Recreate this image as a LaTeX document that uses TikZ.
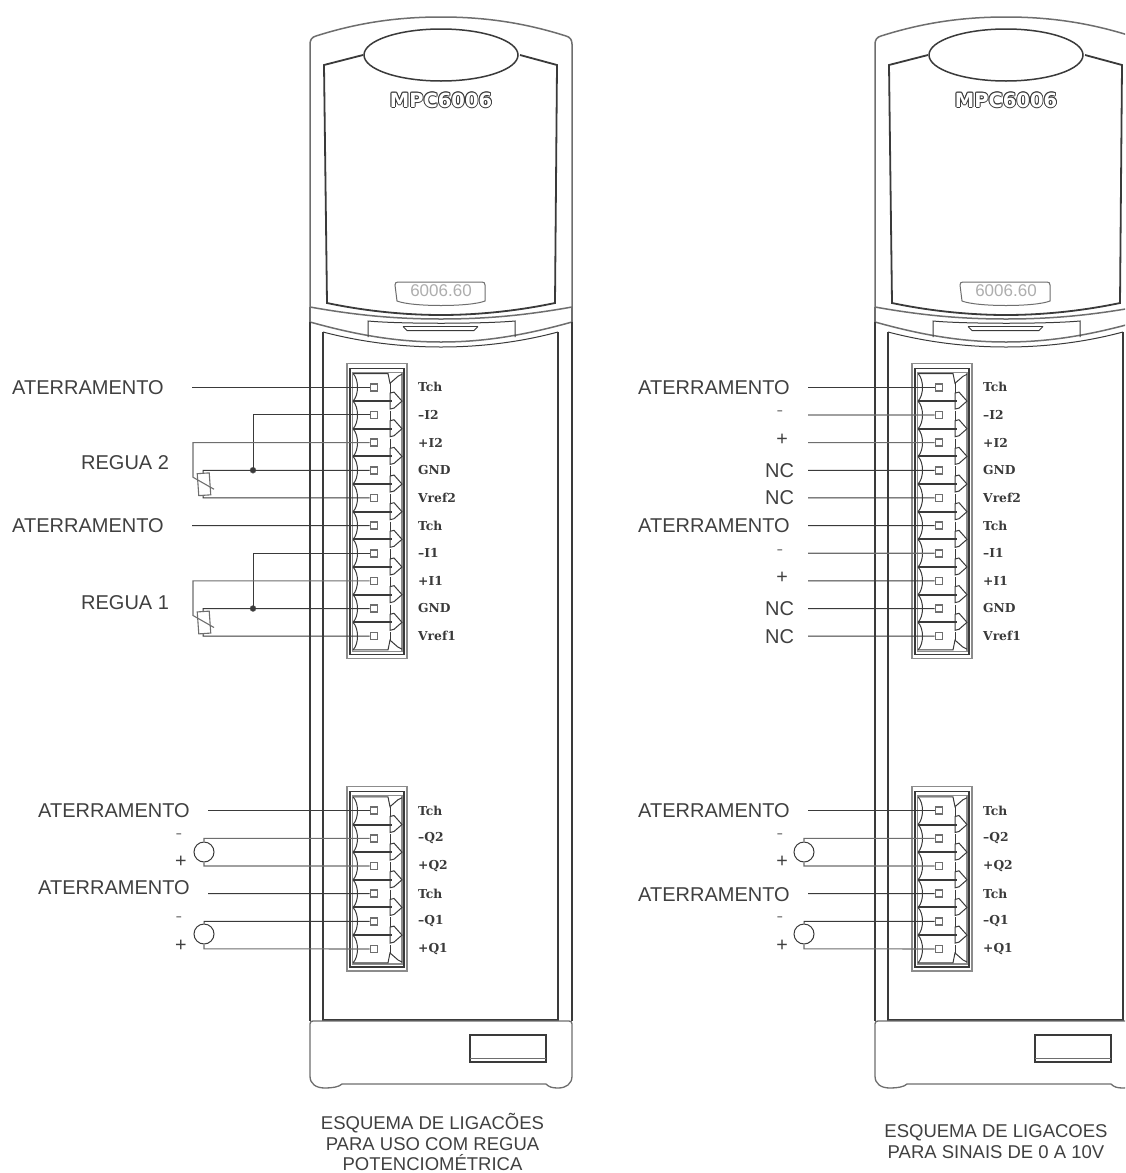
\documentclass[tikz,border=0pt]{standalone}
\usepackage{fontspec}
\usetikzlibrary{shapes.geometric}
\setmainfont{Liberation Sans}
\newfontfamily\pinfont{DejaVu Serif}
\newfontfamily\brandfont{DejaVu Sans}
\definecolor{ink}{HTML}{3A3A3A}
\definecolor{midink}{HTML}{6E6E6E}
\definecolor{softink}{HTML}{8C8C8C}
\definecolor{txt}{HTML}{404040}
\newcommand{\brandcopy}[2]{\rlap{\kern#1pt\raisebox{#2pt}{\brandfont\bfseries MPC6006}}}
\newcommand{\brandtext}{\fontsize{19.5}{20}\selectfont\color{ink}%
\brandcopy{-.9}{0}\brandcopy{.9}{0}\brandcopy{0}{.9}\brandcopy{0}{-.9}\brandcopy{-.7}{-.7}\brandcopy{.7}{.7}\brandcopy{-.7}{.7}\brandcopy{.7}{-.7}%
\color{white}{\brandfont\bfseries MPC6006}}
\tikzset{
  x=1pt,y=-1pt,
  shell/.style={draw=midink,line width=1.5pt},
  darkline/.style={draw=ink,line width=1.8pt},
  thinline/.style={draw=ink,line width=1pt},
  wire/.style={draw=ink,line width=1pt},
  softwire/.style={draw=midink,line width=1.1pt},
  pinsq/.style={draw=midink,line width=1.6pt,fill=white,minimum size=7pt,inner sep=0pt},
  pinlab/.style={font=\pinfont\bfseries\fontsize{12.3}{13}\selectfont,text=ink,anchor=west,inner sep=0pt},
  lab/.style={font=\fontsize{20}{22}\selectfont,text=txt,anchor=west,inner sep=0pt},
  sign/.style={font=\fontsize{19.7}{22}\selectfont,text=txt,inner sep=0pt},
  caption/.style={font=\fontsize{18.5}{20.7}\selectfont,text=txt,align=center,inner sep=0pt},
  dot/.style={circle,fill=ink,draw=midink,minimum size=6pt,inner sep=0pt},
  loopc/.style={circle,draw=ink,line width=1pt,minimum size=20pt,inner sep=0pt},
}
% module housing, drawn with module-local x coordinates
\newcommand{\Housing}[1]{%
  % outer top
  \draw[shell] (310,307) -- (310,44) .. controls (310,40) and (312,37) .. (316,36)
     .. controls (360,22) and (400,17) .. (441,17)
     .. controls (482,17) and (522,22) .. (566,36)
     .. controls (570,37) and (572,40) .. (572,44) -- (572,307);
  % window
  \draw[darkline] (363,55) -- (324,65) -- (327,303)
     .. controls (365,311) and (405,315) .. (441,315)
     .. controls (477,315) and (517,311) .. (555,303) -- (557,65) -- (520,55);
  \node[draw=ink,line width=1.5pt,fill=white,ellipse,minimum width=154pt,minimum height=52pt,inner sep=0pt] (#1-lens) at (441,55) {};
  \node[inner sep=0pt] (#1-brand) at (441,100) {\brandtext};
  % small label
  \draw[draw=midink,line width=1pt] (398,282) -- (482,282) .. controls (484,282) and (485,283) .. (485,285)
     -- (485,301) .. controls (470,307) and (412,307) .. (397,301) -- (395,285) .. controls (395,283) and (396,282) .. (398,282);
  \node[font=\fontsize{17}{18}\selectfont,text=softink!70,inner sep=0pt] (#1-model) at (441,291) {6006.60};
  % band
  \draw[shell] (310,307) .. controls (360,316) and (400,319) .. (441,319)
     .. controls (482,319) and (522,316) .. (572,307);
  \draw[shell] (310,307) -- (310,322) (572,307) -- (572,322);
  \draw[shell] (310,322) .. controls (360,336) and (400,342) .. (441,342)
     .. controls (482,342) and (522,336) .. (572,322);
  \draw[thinline] (323,332) .. controls (365,343) and (405,347) .. (441,347)
     .. controls (477,347) and (517,343) .. (558,332);
  % slot in the band
  \draw[thinline] (368,337) -- (368,321) .. controls (400,324) and (482,324) .. (515,321) -- (515,337);
  \draw[thinline,line width=1.4pt] (403,326.5) -- (478,326.5);
  \draw[thinline] (403,326.5) -- (407,330.5) -- (474,330.5) -- (478,326.5);
  % body
  \draw[darkline] (310,322) -- (310,1021) (323,332) -- (323,1021) (558,332) -- (558,1021) (572,322) -- (572,1021);
  \draw[darkline] (323,1020) -- (558,1020);
  % base
  \draw[shell,line width=1.3pt] (310,1024) .. controls (310,1022) and (311,1021) .. (313,1021) -- (569,1021)
     .. controls (571,1021) and (572,1022) .. (572,1024) -- (572,1076)
     .. controls (572,1084) and (566,1088) .. (558,1088) .. controls (552,1088) and (549,1087) .. (546,1084)
     -- (342,1084) .. controls (339,1087) and (332,1088) .. (325,1088)
     .. controls (316,1088) and (310,1084) .. (310,1076) -- cycle;
  \draw[darkline,line width=1.5pt] (470,1035) rectangle (546,1062);
  \draw[draw=midink,line width=1pt] (470,1058) -- (546,1058);
}
% terminal block: prefix, y of first pin, number of pins, labels
\newcommand{\Connector}[4]{%
  \pgfmathsetmacro{\ytop}{#2}
  \pgfmathsetmacro{\ybot}{#2+27.65*(#3-1)}
  \draw[draw=softink,line width=1.2pt] (347,\ytop-24) rectangle (407,\ybot+22);
  \draw[draw=ink,line width=1.3pt] (350,\ytop-19) rectangle (404,\ybot+18);
  \draw[draw=softink,line width=1.2pt] (352.5,\ytop-15) rectangle (402,\ybot+15);
  \fill[white] (353.5,\ytop-13.5) rectangle (401,\ybot+13.5);
  \draw[thinline] (353,\ytop-13.8) -- (388,\ytop-13.8) -- (390,\ytop-4) -- (398,\ytop-11) -- (402,\ytop-13);
  \draw[thinline] (353,\ybot+13.8) -- (388,\ybot+13.8) -- (390,\ybot+4) -- (398,\ybot+11) -- (402,\ybot+13);
  \foreach \i/\t in #4 {
    \pgfmathsetmacro{\yy}{#2+27.65*(\i-1)}
    \draw[thinline] (353,\yy-13.8) .. controls (359,\yy-8) and (359,\yy+8) .. (353,\yy+13.8);
    \node[pinsq] (#1-\i) at (374,\yy) {};
    \node[pinlab] (#1-\i-lab) at (418,\yy) {\t};
    \ifnum\i<#3\relax
      \draw[thinline,fill=white] (390,\yy+5.8) -- (394,\yy+4.8) -- (402,\yy+13.8) -- (394,\yy+20.8) -- (390,\yy+21.8) -- cycle;
      \draw[darkline,line width=2pt] (353,\yy+13.8) -- (392,\yy+13.8);
      \draw[thinline] (390,\yy-4) -- (390,\yy+5.8);
    \else
      \draw[thinline] (390,\yy-4) -- (390,\yy+4);
    \fi
  }
}
\newcommand{\pinsA}{1/Tch,2/–I2,3/+I2,4/GND,5/Vref2,6/Tch,7/–I1,8/+I1,9/GND,10/Vref1}
\newcommand{\pinsB}{1/Tch,2/–Q2,3/+Q2,4/Tch,5/–Q1,6/+Q1}
% pot: prefix of connector, node name, pin numbers (minus, plus, gnd, vref), y of gnd
\newcommand{\Pot}[7]{%
  \coordinate (#2-a) at (253,#7);
  \coordinate (#2-top) at (203,#7);
  \coordinate (#2-bot) at (203,#7+27.65);
  \coordinate (#2-in) at (193,#7-27.65);
  \coordinate (#2-low) at (193,#7+7);
  \coordinate (#2-tip) at (214,#7+19);
  \node[dot] (#2-j) at (#2-a) {};
  \draw[wire] (#1-#3.west) -| (#2-j.center);
  \draw[softwire] (#1-#4.west) -- (#2-in) -- (#2-low) -- (#2-tip);
  \draw[wire] (#1-#5.west) -- (#2-top) -- ++(0,3);
  \draw[wire] (#1-#6.west) -- (#2-bot) -- ++(0,-3);
  \draw[softwire,rotate around={4:(204,#7+14)}] (198,#7+3) rectangle (210,#7+25);
}
\begin{document}
\begin{tikzpicture}
\useasboundingbox (0,0) rectangle (1125,1173);
\clip (0,0) rectangle (1125,1173);
\fill[white] (0,0) rectangle (1125,1173);

% ---------- left module
\Housing{L}
\Connector{LA}{387.3}{10}{\pinsA}
\Connector{LB}{810.7}{6}{\pinsB}

\node[lab] (lg1) at (12,387.5) {ATERRAMENTO};
\node[lab] (lg2) at (12,525.5) {ATERRAMENTO};
\node[lab] (lr2) at (81,462.5) {REGUA 2};
\node[lab] (lr1) at (81,602.5) {REGUA 1};
\node[lab] (lg3) at (38,810.5) {ATERRAMENTO};
\node[lab] (lg4) at (38,887.5) {ATERRAMENTO};
\coordinate (lw1) at (192,387.3);
\coordinate (lw2) at (192,525.7);
\coordinate (lw3) at (208,810.7);
\coordinate (lw4) at (208,893.6);
\draw[wire] (LA-1.west) -- (lw1);
\draw[wire] (LA-6.west) -- (lw2);
\draw[wire] (LB-1.west) -- (lw3);
\draw[wire] (LB-4.west) -- (lw4);
\Pot{LA}{lp2}{2}{3}{4}{5}{470.25}
\Pot{LA}{lp1}{7}{8}{9}{10}{608.5}

\node[loopc] (lc2) at (204,852) {};
\node[loopc] (lc1) at (204,934) {};
\draw[softwire] (LB-2.west) -- (204,838.3) -- (lc2.north);
\draw[softwire] (LB-3.west) -- (204,866) -- (lc2.south);
\draw[wire] (LB-5.west) -- (204,921.3) -- (lc1.north);
\draw[softwire] (LB-6.west) -- (204,948.9) -- (lc1.south);
\node[sign,text=softink] (ls1) at (179,836) {-};
\node[sign] (ls2) at (181,862) {+};
\node[sign,text=softink] (ls3) at (179,919) {-};
\node[sign] (ls4) at (181,946) {+};

\node[caption] (lcap) at (432.5,1142) {ESQUEMA DE LIGACÕES\\PARA USO COM REGUA\\POTENCIOMÉTRICA};

% ---------- right module
\begin{scope}[xshift=565pt]
\Housing{R}
\Connector{RA}{387.3}{10}{\pinsA}
\Connector{RB}{810.7}{6}{\pinsB}
\foreach \i/\yy in {1/387.3,2/415,3/442.6,4/470.25,5/497.9,6/525.6,7/553.2,8/580.9,9/608.5,10/636.2}{
  \coordinate (rw\i) at (243,\yy);
  \ifnum\i=2 \draw[softwire] (RA-\i.west) -- (rw\i);
  \else\ifnum\i=7 \draw[softwire] (RA-\i.west) -- (rw\i);
  \else\ifnum\i=3 \draw[softwire] (RA-\i.west) -- (rw\i);
  \else \draw[wire] (RA-\i.west) -- (rw\i);
  \fi\fi\fi
}
\coordinate (rw11) at (243,810.7);
\coordinate (rw12) at (243,893.6);
\draw[wire] (RB-1.west) -- (rw11);
\draw[wire] (RB-4.west) -- (rw12);
\node[loopc] (rc2) at (239,852) {};
\node[loopc] (rc1) at (239,934) {};
\draw[softwire] (RB-2.west) -- (239,838.3) -- (rc2.north);
\draw[softwire] (RB-3.west) -- (239,866) -- (rc2.south);
\draw[wire] (RB-5.west) -- (239,921.3) -- (rc1.north);
\draw[softwire] (RB-6.west) -- (239,948.9) -- (rc1.south);
\end{scope}

\node[lab] (rg1) at (638,387.5) {ATERRAMENTO};
\node[lab] (rg2) at (638,525.5) {ATERRAMENTO};
\node[lab] (rg3) at (638,810.5) {ATERRAMENTO};
\node[lab] (rg4) at (638,894.5) {ATERRAMENTO};
\node[lab] (rn1) at (765,470.5) {NC};
\node[lab] (rn2) at (765,497.5) {NC};
\node[lab] (rn3) at (765,608.5) {NC};
\node[lab] (rn4) at (765,636.5) {NC};
\node[sign,text=softink] (rs1) at (780,413) {-};
\node[sign] (rs2) at (782,440) {+};
\node[sign,text=softink] (rs3) at (780,552) {-};
\node[sign] (rs4) at (782,578) {+};
\node[sign,text=softink] (rs5) at (780,836) {-};
\node[sign] (rs6) at (782,862) {+};
\node[sign,text=softink] (rs7) at (780,919) {-};
\node[sign] (rs8) at (782,946) {+};
\node[caption] (rcap) at (996,1141.5) {ESQUEMA DE LIGACOES\\PARA SINAIS DE 0 A 10V};
\end{tikzpicture}
\end{document}
